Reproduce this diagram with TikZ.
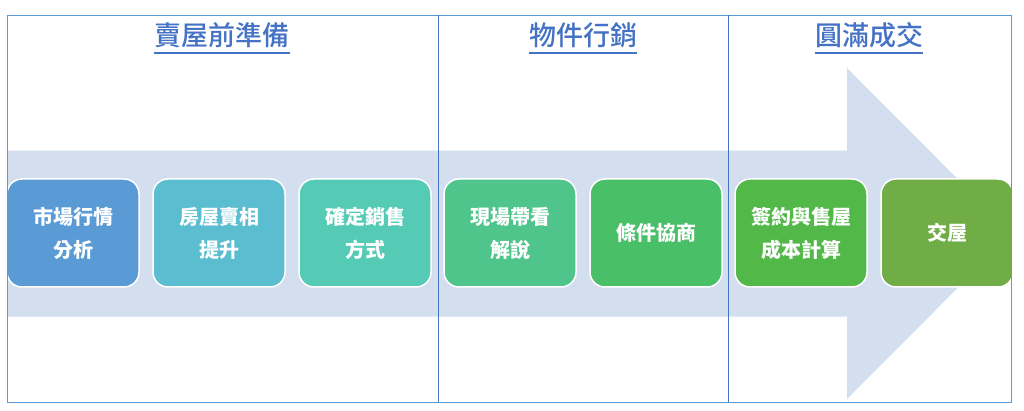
\documentclass[tikz,border=0pt]{standalone}
\usepackage{fontspec}
\newfontfamily\cjk{Noto Sans CJK TC}
\newfontfamily\cjkmed{Noto Sans CJK TC Medium}
\definecolor{frameblue}{HTML}{5B9BD5}
\definecolor{lineblue}{HTML}{4472C4}
\definecolor{titleblue}{HTML}{4472C4}
\definecolor{band}{HTML}{D3DEEF}
\definecolor{cA}{HTML}{5B9BD5}
\definecolor{cB}{HTML}{5ABDD0}
\definecolor{cC}{HTML}{55CBB6}
\definecolor{cD}{HTML}{4FC58C}
\definecolor{cE}{HTML}{49BF67}
\definecolor{cF}{HTML}{52B848}
\definecolor{cG}{HTML}{70AD47}
\tikzset{
  stepbox/.style={draw=white, line width=1.5pt, rounded corners=15pt, minimum width=132pt, minimum height=108pt, inner sep=0pt, align=center, text=white, font=\cjk\bfseries\fontsize{20}{33}\selectfont},
  titlenode/.style={inner sep=0pt, text=titleblue, font=\cjkmed\fontsize{27}{30}\selectfont},
  ul/.style={draw=titleblue, line width=2pt},
  frameline/.style={draw=frameblue, line width=1pt},
  divider/.style={draw=lineblue, line width=0.8pt}
}
\begin{document}
\begin{tikzpicture}[x=1pt,y=-1pt]
\useasboundingbox (0,0) rectangle (1024,411);
% big arrow
\fill[band] (7,150.7) -- (847,150.7) -- (847,68) -- (1012,233.5) -- (847,399) -- (847,316.7) -- (7,316.7) -- cycle;
% boxes
\begin{scope}
\clip (7,15) rectangle (1011,402);
\node[stepbox, fill=cA] (b1) at (73,233) {市場行情\\分析};
\node[stepbox, fill=cB] (b2) at (219,233) {房屋賣相\\提升};
\node[stepbox, fill=cC] (b3) at (365,233) {確定銷售\\方式};
\node[stepbox, fill=cD] (b4) at (510,233) {現場帶看\\解說};
\node[stepbox, fill=cE] (b5) at (656,233) {條件協商};
\node[stepbox, fill=cF] (b6) at (801,233) {簽約與售屋\\成本計算};
\node[stepbox, fill=cG] (b7) at (947,233) {交屋};
\end{scope}
% frame
\draw[frameline] (7,15.5) rectangle (1011.5,402);
\draw[divider] (438,15.5) -- (438,402);
\draw[divider] (728,15.5) -- (728,402);
% titles
\node[titlenode] (t1) at (222,35.5) {賣屋前準備};
\node[titlenode] (t2) at (583,35.5) {物件行銷};
\node[titlenode] (t3) at (869,35.5) {圓滿成交};
\foreach \t in {t1,t2,t3}{
  \draw[ul] ([yshift=-5pt]\t.south west) -- ([yshift=-5pt]\t.south east);
}
\end{tikzpicture}
\end{document}
